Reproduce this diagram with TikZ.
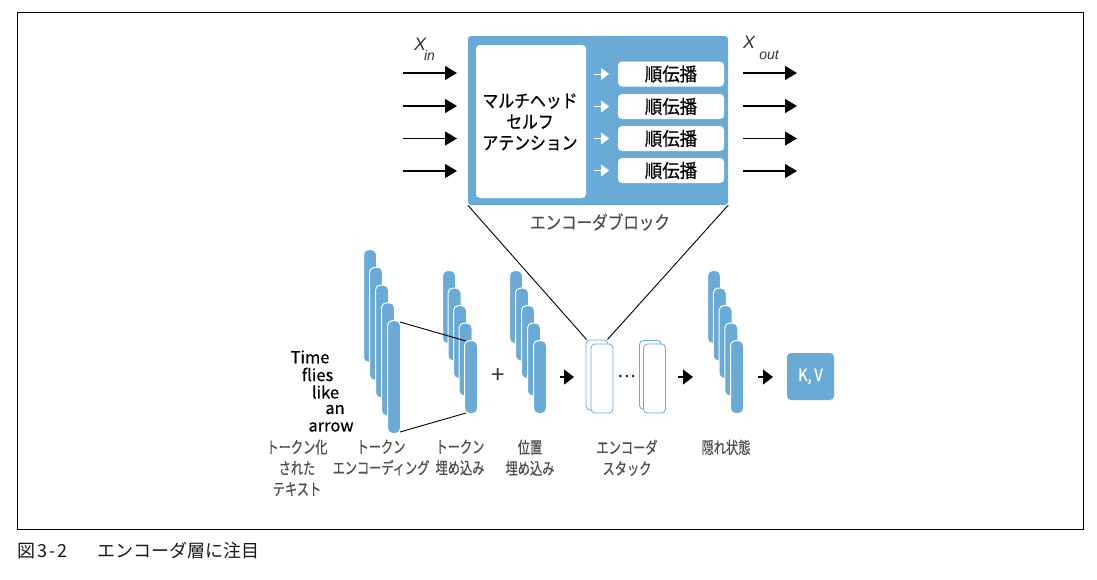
\documentclass[tikz,border=0pt]{standalone}
\usepackage{fontspec}
\setmainfont{Noto Sans CJK JP}
\newfontfamily\xfont{Liberation Sans}
\newfontfamily\lblfont[FakeStretch=0.74,FakeBold=0.4]{Noto Sans CJK JP}
\newfontfamily\blkfont[FakeStretch=0.84,FakeBold=0.3]{Noto Sans CJK JP}
\newfontfamily\kvfont[FakeStretch=0.85,FakeBold=0.5]{Noto Sans CJK JP}
\newfontfamily\boldish[FakeBold=0.6]{Noto Sans CJK JP}
\newfontfamily\ffont[FakeBold=0.6,FakeStretch=0.94]{Noto Sans CJK JP}
\newfontfamily\boldishc[FakeBold=0.6,FakeStretch=0.88]{Noto Sans CJK JP}
\usetikzlibrary{arrows.meta}
\definecolor{eblue}{HTML}{6AAAD7}
\definecolor{lgray}{HTML}{4D4D4D}
\definecolor{dgray}{HTML}{333333}
\begin{document}
\begin{tikzpicture}[x=1pt,y=-1pt,
  bar/.style={draw=white, line width=1pt, fill=eblue, rounded corners=5pt, minimum width=13pt, inner sep=0pt, anchor=north west},
  stackbox/.style={draw=eblue, fill=white, line width=0.8pt, rounded corners=4pt, minimum width=22pt, inner sep=0pt},
  ffbox/.style={fill=white, rounded corners=4pt, minimum width=106pt, minimum height=25pt, inner sep=0pt, font=\ffont\fontsize{18.5}{18.5}\selectfont},
  lbl/.style={align=center, text=lgray, font=\lblfont\fontsize{16.5}{21}\selectfont, anchor=north, inner sep=0pt},
  bigarrow/.style={line width=1.2pt, -{Triangle[length=12pt,width=14pt]}},
  smallarrow/.style={line width=1.2pt, -{Triangle[length=10pt,width=15pt]}},
  whitearrow/.style={draw=white, line width=1pt, -{Triangle[length=8pt,width=12pt]}},
  word/.style={inner sep=0pt, font=\boldish\fontsize{16.5}{16.5}\selectfont},
  conn/.style={line width=0.9pt}
]
\useasboundingbox (0,0) rectangle (1097,579);
\fill[white] (0,0) rectangle (1097,579);
% frame
\draw[line width=0.9pt] (17,12) rectangle (1083,529);
% caption
\node[anchor=west, inner sep=0pt, font=\fontsize{18}{18}\selectfont, text=black!90] (cap1) at (17,551) {図\hspace{2pt}3\hspace{2pt}-\hspace{2pt}2};
\node[anchor=west, inner sep=0pt, font=\fontsize{18}{18}\selectfont, text=black!90] (cap2) at (97,551) {エンコーダ層に注目};

% encoder block
\node[fill=eblue, rounded corners=3pt, minimum width=260pt, minimum height=169pt, inner sep=0pt] (block) at (598,120.5) {};
\node[fill=white, rounded corners=4pt, minimum width=110pt, minimum height=153pt, inner sep=0pt] (mhsa) at (531,121.5) {};
\node[align=center, font=\boldishc\fontsize{18}{21}\selectfont, inner sep=0pt] (mhsatext) at (530,122) {マルチヘッド\\セルフ\\アテンション};
\foreach \i/\y in {1/74,2/106.5,3/138.5,4/170.5}{
  \node[ffbox] (ff\i) at (671,\y) {順伝播};
  \coordinate (wa\i) at (594,\y);
  \coordinate (wb\i) at (609,\y);
  \draw[whitearrow] (wa\i) -- (wb\i);
}
\node[text=lgray, inner sep=0pt, font=\blkfont\fontsize{18.5}{18.5}\selectfont] (blocklbl) at (600,222) {エンコーダブロック};

% input / output arrows
\foreach \i/\y in {1/73,2/106,3/138.5,4/171}{
  \coordinate (ia\i) at (403,\y);
  \coordinate (ib\i) at (457,\y);
  \draw[bigarrow] (ia\i) -- (ib\i);
  \coordinate (oa\i) at (743,\y);
  \coordinate (ob\i) at (797,\y);
  \draw[bigarrow] (oa\i) -- (ob\i);
}
\node[inner sep=0pt, text=dgray, font=\xfont\itshape\fontsize{18}{18}\selectfont] (xin) at (420,44) {X};
\node[inner sep=0pt, text=dgray, font=\xfont\itshape\fontsize{14}{14}\selectfont] (xinsub) at (429.5,55) {in};
\node[inner sep=0pt, text=dgray, font=\xfont\itshape\fontsize{18}{18}\selectfont] (xout) at (749,42) {X};
\node[inner sep=0pt, text=dgray, font=\xfont\itshape\fontsize{14}{14}\selectfont] (xoutsub) at (769,55) {out};

% token encoding bars
\foreach \i in {1,...,5}{
  \node[bar, minimum height=113pt] (te\i) at ({363+6*(\i-1)},{249+17.75*(\i-1)}) {};
}
% token embedding bars
\foreach \i in {1,...,5}{
  \node[bar, minimum height=73pt] (tm\i) at ({442+5.5*(\i-1)},{270+17.5*(\i-1)}) {};
}
% position embedding bars
\foreach \i in {1,...,5}{
  \node[bar, minimum height=73pt] (pe\i) at ({509+6*(\i-1)},{270+17.5*(\i-1)}) {};
}
% hidden state bars
\foreach \i in {1,...,5}{
  \node[bar, minimum height=73pt] (hs\i) at ({707+5.75*(\i-1)},{270+17.5*(\i-1)}) {};
}
\draw[conn] ([xshift=-1pt,yshift=-2pt]te5.north east) -- ([xshift=2pt,yshift=-1pt]tm5.north west);
\draw[conn] ([xshift=-1pt,yshift=2pt]te5.south east) -- ([xshift=2pt,yshift=1pt]tm5.south west);

% plus
\node[inner sep=0pt, text=dgray, font=\fontsize{24}{24}\selectfont] (plus) at (498.5,376) {+};

% encoder stack
\node[stackbox, minimum height=70pt] (s1b) at (597,375) {};
\node[stackbox, minimum height=69pt] (s1f) at (602,378.5) {};
\node[stackbox, minimum height=69pt] (s2b) at (650.5,375) {};
\node[stackbox, minimum height=69pt] (s2f) at (654.5,378.5) {};
\node[inner sep=0pt, font=\boldish\fontsize{17}{17}\selectfont] (dots) at (626.5,376) {…};
\draw[conn] (block.south west) -- ([xshift=1pt]s1b.north west);
\draw[conn] (block.south east) -- ([xshift=-1pt]s1b.north east);

% arrows in lower row
\coordinate (la1) at (560,377); \coordinate (lb1) at (574,377);
\coordinate (la2) at (678,377); \coordinate (lb2) at (693,377);
\coordinate (la3) at (758,377); \coordinate (lb3) at (773,377);
\draw[smallarrow] (la1) -- (lb1);
\draw[smallarrow] (la2) -- (lb2);
\draw[smallarrow] (la3) -- (lb3);

% K,V
\node[fill=eblue, rounded corners=4pt, minimum width=47pt, minimum height=47pt, inner sep=0pt, text=white, font=\kvfont\fontsize{17}{17}\selectfont] (kv) at (810.5,376.5) {K,\,V};

% Time flies like an arrow
\node[word] (w1) at (310,357) {Time};
\node[word] (w2) at (317.5,374.5) {flies};
\node[word] (w3) at (325.5,392) {like};
\node[word] (w4) at (335,409.5) {an};
\node[word] (w5) at (331,427) {arrow};

% labels
\node[lbl] (l1) at (297,439.5) {トークン化\\された\\テキスト};
\node[lbl] (l2) at (381,439.5) {トークン\\エンコーディング};
\node[lbl] (l3) at (460,439.5) {トークン\\埋め込み};
\node[lbl] (l4) at (530,439.5) {位置\\埋め込み};
\node[lbl] (l5) at (627,439.5) {エンコーダ\\スタック};
\node[lbl] (l6) at (726,439.5) {隠れ状態};
\end{tikzpicture}
\end{document}
